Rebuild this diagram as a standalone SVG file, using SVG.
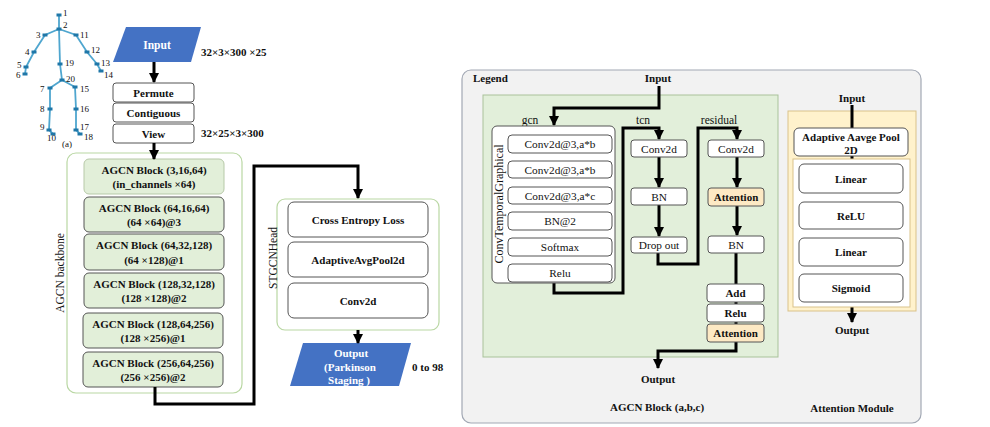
<svg xmlns="http://www.w3.org/2000/svg" width="990" height="427" viewBox="0 0 990 427">
<defs>
<marker id="arr" markerUnits="userSpaceOnUse" markerWidth="10" markerHeight="10" refX="9" refY="5" orient="auto">
<path d="M0,0 L10,5 L0,10 Z" fill="#000"/>
</marker>
<style>
text{font-family:"Liberation Serif","Times New Roman",serif;fill:#111}
.b{font-weight:bold}
.w{fill:#fff;font-weight:bold}
.c{text-anchor:middle}
.box{fill:#fff;stroke:#555;stroke-width:1}
.gbox{fill:#e2efd9;stroke:#555;stroke-width:1}
.cont{fill:#fff;stroke:#b9d7a3;stroke-width:1.2}
.line{fill:none;stroke:#000;stroke-width:3}
.sk{stroke:#4fa6cf;stroke-width:1.8;fill:none}
.jt{fill:#1f77a8}
.att{fill:#fde9c4;stroke:#555;stroke-width:1}
.sl{font-size:9px}
</style>
</defs>
<rect width="990" height="427" fill="#fff"/>

<g id="skeleton">
<path class="sk" d="M59,15 L59,29 M59,29 L45,35 L34,52 L26,67 L25,74 M59,29 L76,35 L87,52 L97,64 L101,71 M59,29 L60,64 L62,80 M62,80 L50,88 L50,109 L49,130 L53,134 M62,80 L75,87 L76,109 L76,130 L80,134"/>
<g class="jt">
<rect x="56.5" y="13.5" width="5" height="3"/><rect x="56.5" y="27.5" width="5" height="3"/>
<rect x="42.5" y="33.5" width="5" height="3"/><rect x="31.5" y="50.5" width="5" height="3"/>
<rect x="23.5" y="65.5" width="5" height="3"/><rect x="22.5" y="72.5" width="5" height="3"/>
<rect x="73.5" y="33.5" width="5" height="3"/><rect x="84.5" y="50.5" width="5" height="3"/>
<rect x="94.5" y="62.5" width="5" height="3"/><rect x="98.5" y="69.5" width="5" height="3"/>
<rect x="57.5" y="62.5" width="5" height="3"/><rect x="59.5" y="78.5" width="5" height="3"/>
<rect x="47.5" y="86.5" width="5" height="3"/><rect x="47.5" y="107.5" width="5" height="3"/>
<rect x="46.5" y="128.5" width="5" height="3"/><rect x="50.5" y="132.5" width="5" height="3"/>
<rect x="72.5" y="85.5" width="5" height="3"/><rect x="73.5" y="107.5" width="5" height="3"/>
<rect x="73.5" y="128.5" width="5" height="3"/><rect x="77.5" y="132.5" width="5" height="3"/>
</g>
<g class="sl">
<text x="63" y="16">1</text><text x="63" y="28">2</text>
<text x="36" y="38">3</text><text x="25" y="55">4</text>
<text x="17" y="68">5</text><text x="16" y="78">6</text>
<text x="80" y="38">11</text><text x="91" y="53">12</text>
<text x="101" y="66">13</text><text x="104" y="78">14</text>
<text x="65" y="66">19</text><text x="66" y="82">20</text>
<text x="40" y="92">7</text><text x="80" y="92">15</text>
<text x="40" y="112">8</text><text x="80" y="112">16</text>
<text x="40" y="130">9</text><text x="80" y="130">17</text>
<text x="47" y="141">10</text><text x="84" y="140">18</text>
<text x="62" y="147">(a)</text>
</g>
</g>

<g id="input">
<polygon points="126,27 201,27 191,62 113,62" fill="#4472c4"/>
<text class="w c" x="157" y="49" font-size="11.5">Input</text>
<text class="b" x="201" y="56" font-size="11">32×3×300 ×25</text>
</g>
<g id="permute"><rect class="box" x="113" y="83" width="81" height="19" rx="3"/><text class="b c" x="153.5" y="97" font-size="11">Permute</text></g>
<g id="contiguous"><rect class="box" x="113" y="103" width="81" height="19" rx="3"/><text class="b c" x="153.5" y="117" font-size="11">Contiguous</text></g>
<g id="view"><rect class="box" x="113" y="124" width="81" height="19" rx="3"/><text class="b c" x="153.5" y="138" font-size="11">View</text></g>
<text class="b" x="201" y="137" font-size="11">32×25×3×300</text>

<g id="backbone">
<rect class="cont" x="67" y="153" width="175" height="240" rx="9"/>
<text transform="translate(64,273) rotate(-90)" class="c" font-size="11.5">AGCN backbone</text>
<g id="blk1"><rect x="84" y="159" width="140" height="35" rx="5" fill="#e2efd9" stroke="#b7c9a8"/><text class="b c" x="154" y="174" font-size="11">AGCN Block (3,16,64)</text><text class="b c" x="154" y="188" font-size="11">(in_channels ×64)</text></g>
<g id="blk2"><rect class="gbox" x="84" y="197" width="140" height="35" rx="5"/><text class="b c" x="154" y="212" font-size="11">AGCN Block (64,16,64)</text><text class="b c" x="154" y="226" font-size="11">(64 ×64)@3</text></g>
<g id="blk3"><rect class="gbox" x="84" y="234" width="140" height="36" rx="5"/><text class="b c" x="154" y="249" font-size="11">AGCN Block (64,32,128)</text><text class="b c" x="154" y="264" font-size="11">(64 ×128)@1</text></g>
<g id="blk4"><rect class="gbox" x="84" y="273" width="140" height="35" rx="5"/><text class="b c" x="154" y="288" font-size="11">AGCN Block (128,32,128)</text><text class="b c" x="154" y="302" font-size="11">(128 ×128)@2</text></g>
<g id="blk5"><rect class="gbox" x="83" y="313" width="140" height="35" rx="5"/><text class="b c" x="153" y="328" font-size="11">AGCN Block (128,64,256)</text><text class="b c" x="153" y="342" font-size="11">(128 ×256)@1</text></g>
<g id="blk6"><rect class="gbox" x="83" y="352" width="140" height="35" rx="5"/><text class="b c" x="153" y="367" font-size="11">AGCN Block (256,64,256)</text><text class="b c" x="153" y="381" font-size="11">(256 ×256)@2</text></g>
</g>

<g id="stgcnhead">
<rect class="cont" x="277" y="199" width="162" height="131" rx="8"/>
<text transform="translate(277,258) rotate(-90)" class="c" font-size="11.5">STGCNHead</text>
<g id="ce"><rect class="box" x="288" y="202" width="140" height="35" rx="6"/><text class="b c" x="358" y="224" font-size="11">Cross Entropy Loss</text></g>
<g id="pool"><rect class="box" x="288" y="242" width="140" height="35" rx="6"/><text class="b c" x="358" y="264" font-size="11">AdaptiveAvgPool2d</text></g>
<g id="conv"><rect class="box" x="288" y="283" width="140" height="35" rx="6"/><text class="b c" x="358" y="305" font-size="11">Conv2d</text></g>
</g>

<g id="output">
<polygon points="303,343 411,343 399,386 290,386" fill="#4472c4"/>
<text class="w c" x="351" y="357" font-size="11">Output</text>
<text class="w c" x="350" y="371" font-size="11">(Parkinson</text>
<text class="w c" x="349" y="384" font-size="11">Staging )</text>
<text class="b" x="412" y="371" font-size="11">0 to 98</text>
</g>

<g id="connectors">
<line class="line" x1="154" y1="62" x2="154" y2="82" marker-end="url(#arr)"/>
<line class="line" x1="154" y1="143" x2="154" y2="159" marker-end="url(#arr)"/>
<path class="line" d="M155,387 V404 H254 V166 H358 V198" marker-end="url(#arr)"/>
<line class="line" x1="358" y1="330" x2="358" y2="343" marker-end="url(#arr)"/>
</g>

<g id="legend">
<rect x="462" y="70" width="459" height="353" rx="9" fill="#f2f2f2" stroke="#a2a8b4" stroke-width="1.2"/>
<text class="b" x="473" y="82" font-size="11">Legend</text>
</g>

<g id="agcn-block">
<rect x="483" y="95" width="295" height="262" fill="#e2efda" stroke="#a9c29a" stroke-width="1"/>
<text class="b c" x="658" y="82" font-size="11">Input</text>
<text class="c" x="530" y="124" font-size="11.5">gcn</text>
<text class="c" x="643" y="124" font-size="11.5">tcn</text>
<text class="c" x="719" y="124" font-size="11.5">residual</text>
<g id="legend-connectors">
<path class="line" d="M659,86 V108 H554 V125" marker-end="url(#arr)"/>
<path class="line" d="M554,283 V293 H623 V128 H659 V139" marker-end="url(#arr)"/>
<line class="line" x1="659" y1="157" x2="659" y2="187" marker-end="url(#arr)"/>
<line class="line" x1="659" y1="205" x2="659" y2="236" marker-end="url(#arr)"/>
<path class="line" d="M658,253 V264 H698 V128 H737 V139" marker-end="url(#arr)"/>
<line class="line" x1="737" y1="157" x2="737" y2="187" marker-end="url(#arr)"/>
<line class="line" x1="737" y1="206" x2="737" y2="235" marker-end="url(#arr)"/>
<path class="line" d="M736,253 V351 H658 V368" marker-end="url(#arr)"/>
</g>
<g id="gcn">
<rect class="box" x="492" y="126" width="123" height="157" rx="5"/>
<text transform="translate(503,204) rotate(-90)" class="c" font-size="12">ConvTemporalGraphical</text>
<rect class="box" x="508" y="135" width="104" height="18" rx="4"/><text class="c" x="560" y="148" font-size="11.3">Conv2d@3,a*b</text>
<rect class="box" x="508" y="161" width="104" height="17" rx="4"/><text class="c" x="560" y="174" font-size="11.3">Conv2d@3,a*b</text>
<rect class="box" x="508" y="187" width="104" height="17" rx="4"/><text class="c" x="560" y="200" font-size="11.3">Conv2d@3,a*c</text>
<rect class="box" x="508" y="212" width="104" height="18" rx="4"/><text class="c" x="560" y="225" font-size="11.3">BN@2</text>
<rect class="box" x="508" y="238" width="104" height="18" rx="4"/><text class="c" x="560" y="251" font-size="11.3">Softmax</text>
<rect class="box" x="508" y="264" width="104" height="18" rx="4"/><text class="c" x="560" y="277" font-size="11.3">Relu</text>
</g>
<g id="tcn">
<rect class="box" x="631" y="140" width="56" height="17" rx="3"/><text class="c" x="659" y="153" font-size="11.3">Conv2d</text>
<rect class="box" x="631" y="188" width="56" height="17" rx="3"/><text class="c" x="659" y="201" font-size="11.3">BN</text>
<rect class="box" x="631" y="237" width="56" height="16" rx="3"/><text class="c" x="659" y="249" font-size="11.3">Drop out</text>
</g>
<g id="residual">
<rect class="box" x="708" y="140" width="56" height="17" rx="3"/><text class="c" x="736" y="153" font-size="11.3">Conv2d</text>
<rect class="att" x="708" y="188" width="56" height="18" rx="3"/><text class="b c" x="736" y="201" font-size="11">Attention</text>
<rect class="box" x="708" y="236" width="56" height="17" rx="3"/><text class="c" x="736" y="249" font-size="11.3">BN</text>
<rect class="box" x="707" y="284" width="57" height="18" rx="3"/><text class="b c" x="735.5" y="297" font-size="11">Add</text>
<rect class="box" x="707" y="304" width="57" height="18" rx="3"/><text class="b c" x="735.5" y="317" font-size="11">Relu</text>
<rect class="att" x="707" y="324" width="57" height="18" rx="3"/><text class="b c" x="735.5" y="337" font-size="11">Attention</text>
</g>
<text class="b c" x="658" y="383" font-size="11">Output</text>
<text class="b c" x="657" y="411" font-size="11">AGCN Block (a,b,c)</text>
</g>

<g id="attention-module">
<rect x="788" y="111" width="128" height="200" fill="#fff2cc" stroke="#d9c28a" stroke-width="1"/>
<text class="b c" x="852" y="102" font-size="11">Input</text>
<line x1="852" y1="105" x2="852" y2="128" stroke="#000" stroke-width="3"/>
<line x1="852" y1="156" x2="852" y2="159" stroke="#000" stroke-width="3"/>
<path class="line" d="M852,307 V322" marker-end="url(#arr)"/>
<rect x="793" y="159" width="117" height="148" fill="#fff" stroke="#d9c28a" stroke-width="1"/>
<rect class="box" x="794" y="128" width="114" height="28" rx="5"/>
<text class="b c" x="851" y="141" font-size="11">Adaptive Aavge Pool</text>
<text class="b c" x="851" y="154" font-size="11">2D</text>
<rect class="box" x="799" y="164" width="104" height="29" rx="5"/><text class="b c" x="851" y="183" font-size="11">Linear</text>
<rect class="box" x="799" y="202" width="104" height="27" rx="5"/><text class="b c" x="851" y="220" font-size="11">ReLU</text>
<rect class="box" x="799" y="238" width="104" height="28" rx="5"/><text class="b c" x="851" y="256" font-size="11">Linear</text>
<rect class="box" x="799" y="274" width="104" height="28" rx="5"/><text class="b c" x="851" y="292" font-size="11">Sigmoid</text>
<text class="b c" x="852" y="334" font-size="11">Output</text>
<text class="b c" x="852" y="412" font-size="11">Attention Module</text>
</g>
</svg>
